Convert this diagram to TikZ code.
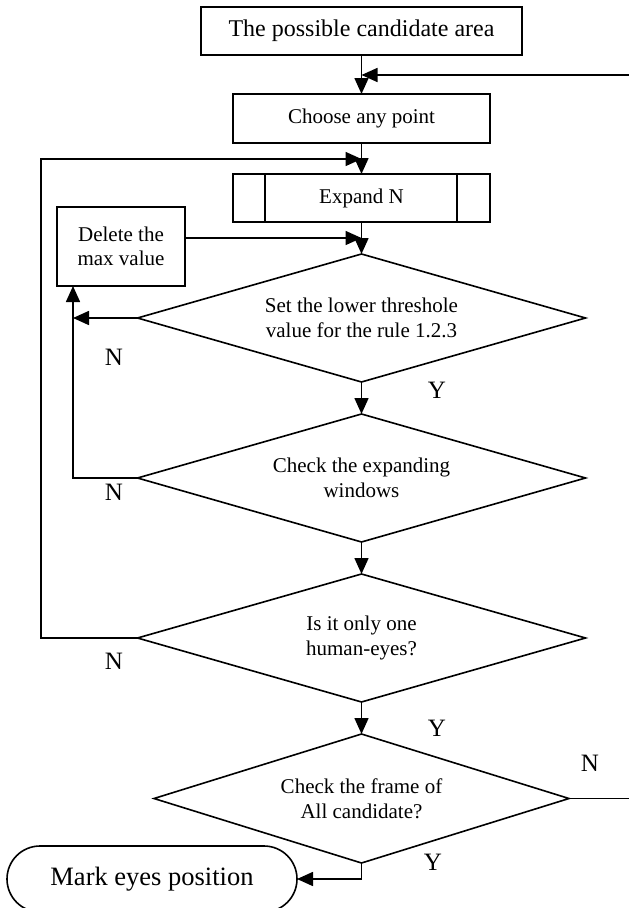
\documentclass[tikz,border=0pt]{standalone}
\usepackage{fontspec}
\setmainfont{Liberation Serif}
\usetikzlibrary{arrows.meta,shapes.geometric,shapes.misc}
\begin{document}
\begin{tikzpicture}[x=1pt,y=-1pt,line width=1.6pt,
  procbox/.style={draw,rectangle,inner sep=0pt,outer sep=0pt,align=center,
    font=\fontsize{21}{24}\selectfont},
  decision/.style={draw,diamond,aspect=3.5,inner sep=0pt,outer sep=0pt,
    minimum width=448pt,minimum height=128pt,align=center,
    font=\fontsize{21}{25}\selectfont},
  terminal/.style={draw,rounded rectangle,inner sep=0pt,outer sep=0pt,
    font=\fontsize{26.5}{30}\selectfont},
  lbl/.style={inner sep=0pt,font=\fontsize{25}{28}\selectfont},
  arr/.style={-{Triangle[length=16pt,width=14pt]}}]
\useasboundingbox (0,0) rectangle (629,908);
\clip (0,0) rectangle (629,908);

% process boxes, all centred on the main flow line x = 361.5
\node[procbox,minimum width=321pt,minimum height=48pt,
  font=\fontsize{24}{27}\selectfont] (area) at (361.5,31) {The possible candidate area};
\node[procbox,minimum width=257pt,minimum height=49pt] (choose) at (361.5,118.5) {Choose any point};
\node[procbox,minimum width=257pt,minimum height=48pt] (expand) at (361.5,198) {Expand N};
\draw ([xshift=32pt]expand.north west) -- ([xshift=32pt]expand.south west);
\draw ([xshift=-33pt]expand.north east) -- ([xshift=-33pt]expand.south east);
\node[procbox,minimum width=128pt,minimum height=79pt] (delete) at (121,246.5) {Delete the\\max value};

% decisions
\node[decision] (d1) at (361.5,318) {Set the lower threshole\\value for the rule 1.2.3};
\node[decision] (d2) at (361.5,478) {Check the expanding\\windows};
\node[decision] (d3) at (361.5,638) {Is it only one\\human-eyes?};
\node[decision,minimum width=415pt,minimum height=129pt] (d4) at (361.5,798.5) {Check the frame of\\All candidate?};

% end
\node[terminal,minimum width=290pt,minimum height=66pt] (mark) at (152,879) {Mark eyes position};

% helper points of the routed connectors
\coordinate (redge) at (629,75);
\coordinate (ncol) at (73,478);
\coordinate (ltop) at (41,159);

% main flow
\draw[arr] (area.south) -- (choose.north);
\draw[arr] (redge) -- (redge -| choose.north);
\draw[arr] (choose.south) -- (expand.north);
\draw[arr] (expand.south) -- (d1.north);
\draw[arr] ([yshift=8.5pt]delete.east) -- ([yshift=8.5pt]delete.east -| expand.south);
\draw[arr] (d1.south) -- (d2.north);
\draw[arr] (d2.south) -- (d3.north);
\draw[arr] (d3.south) -- (d4.north);

% rejection branches
\draw[arr] (d1.west) -- (d1.west -| ncol);
\draw[arr] (d2.west) -- (ncol) -- (ncol |- delete.south);
\draw[arr] (d3.west) -- (ltop |- d3.west) -- (ltop) -- (ltop -| expand.north);
\draw (d4.east) -- (d4.east -| redge);
\draw[arr] (d4.south) |- (mark.east);

% branch labels
\node[lbl] (n1) at (114,357) {N};
\node[lbl] (y1) at (437,390) {Y};
\node[lbl] (n2) at (114,492) {N};
\node[lbl] (n3) at (114,661) {N};
\node[lbl] (y2) at (437,728) {Y};
\node[lbl] (n4) at (590,763) {N};
\node[lbl] (y3) at (433,862) {Y};
\end{tikzpicture}
\end{document}
